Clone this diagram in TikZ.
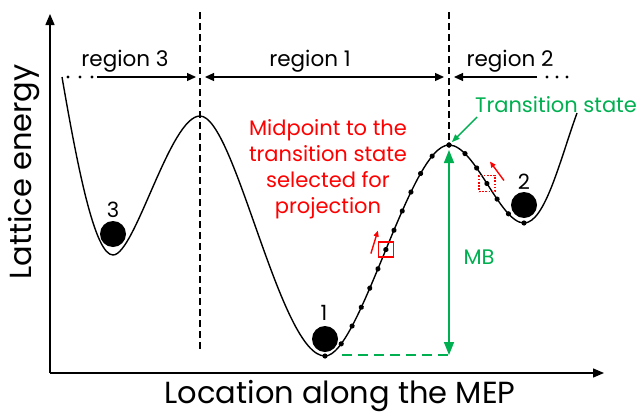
\documentclass[tikz,border=0pt]{standalone}
\usepackage{fontspec}
\setmainfont{Poppins}
\usetikzlibrary{arrows.meta,decorations.markings,calc}
\definecolor{mygreen}{RGB}{0,176,80}
\definecolor{myred}{RGB}{255,0,0}
\tikzset{
  curve/.style={line width=1.4pt},
  axisline/.style={line width=1.3pt,-{Triangle[length=11pt,width=9pt]}},
  sepline/.style={line width=1.2pt,dash pattern=on 7pt off 4pt},
  regarrow/.style={line width=1.2pt,-{Triangle[length=9pt,width=8pt]}},
  regboth/.style={line width=1.2pt,{Triangle[length=9pt,width=8pt]}-{Triangle[length=9pt,width=8pt]}},
  ball/.style={circle,fill=black,minimum size=26pt,inner sep=0pt},
  lbl/.style={font=\fontsize{21}{25}\selectfont,inner sep=0pt},
  reglbl/.style={font=\fontsize{21.5}{25}\selectfont,inner sep=0pt},
  biglbl/.style={font=\fontsize{30.5}{36}\selectfont,inner sep=0pt},
  redsq/.style={draw=myred,line width=1.4pt,minimum size=15pt,inner sep=0pt},
  redarrow/.style={myred,line width=1.4pt,-{Triangle[length=6pt,width=5pt]}},
  garrow/.style={mygreen,line width=1.4pt,-{Triangle[length=8pt,width=6pt]}},
  gboth/.style={mygreen,line width=1.6pt,{Triangle[length=13pt,width=10pt]}-{Triangle[length=13pt,width=10pt]}},
  gdash/.style={mygreen,line width=2pt,dash pattern=on 10pt off 6pt},
}
\begin{document}
\begin{tikzpicture}[x=1pt,y=-1pt]
\useasboundingbox (0,0) rectangle (636,415);

% key points
\coordinate (s)  at (62,77);
\coordinate (m3) at (113,255);
\coordinate (p)  at (200,116);
\coordinate (m1) at (325,356);
\coordinate (ts) at (449,145);
\coordinate (m2) at (524,223);
\coordinate (e)  at (577,113);

% axes
\coordinate (o)  at (50,373);
\coordinate (yt) at (50,14);
\coordinate (xt) at (604,373);
\draw[axisline] (o) -- (yt);
\draw[axisline] (o) -- (xt);
\node[biglbl,rotate=90] (ylab) at (24,172) {Lattice energy};
\node[biglbl] (xlab) at (340,396) {Location along the MEP};

% separators
\coordinate (d1t) at (200,12);
\coordinate (d1b) at (200,352);
\coordinate (d2t) at (449,12);
\coordinate (d2b) at (449,140);
\draw[sepline] (d1t) -- (d1b);
\draw[sepline] (d2t) -- (d2b);

% region arrows
\coordinate (r3a) at (97,77);
\coordinate (r3b) at (196,77);
\coordinate (r1a) at (205,77);
\coordinate (r1b) at (444,77);
\coordinate (r2a) at (537,77);
\coordinate (r2b) at (454,77);
\draw[regarrow] (r3a) -- (r3b);
\draw[regboth] (r1a) -- (r1b);
\draw[regarrow] (r2a) -- (r2b);
\foreach \x in {68,80,92} \fill (\x,77) circle (1.6pt);
\foreach \x in {547,557,567} \fill (\x,77) circle (1.6pt);
\node[reglbl] (t3) at (125,61) {region 3};
\node[reglbl] (t1) at (310,61) {region 1};
\node[reglbl] (t2) at (510,61) {region 2};

% energy curve
\draw[curve] (s) .. controls (78,170) and (95,255) .. (m3)
  .. controls (135,255) and (170,116) .. (p)
  .. controls (235,116) and (280,356) .. (m1)
  .. controls (360,356) and (410,145) .. (ts)
  .. controls (475,145) and (500,223) .. (m2)
  .. controls (545,223) and (560,160) .. (e);

% images along the path
\path[decoration={markings,
   mark=at position 0.5 with {\coordinate (q1);},
   mark=between positions 0 and 1 step 0.083333 with {\fill circle (2.6pt);}},decorate]
  (m1) .. controls (360,356) and (410,145) .. (ts);
\path[decoration={markings,
   mark=at position 0.5 with {\coordinate (q2);},
   mark=between positions 0 and 1 step 0.166666 with {\fill circle (2.6pt);}},decorate]
  (ts) .. controls (475,145) and (500,223) .. (m2);
\fill (ts) circle (2.6pt);
\fill (m2) circle (2.6pt);

% balls
\node[ball] (b3) at (113,234) {};
\node[ball] (b1) at (325,339) {};
\node[ball] (b2) at (524,205) {};
\node[lbl] (n3) at (113,210) {3};
\node[lbl] (n1) at (324,313) {1};
\node[lbl] (n2) at (524,182) {2};

% red markers
\node[redsq] (sq1) at (q1) {};
\node[redsq,minimum size=16pt,dash pattern=on 1.6pt off 1.6pt] (sq2) at (q2) {};
\coordinate (ra1) at ($(sq1)+(-15,4)$);
\coordinate (rb1) at ($(sq1)+(-8,-19)$);
\draw[redarrow] (ra1) -- (rb1);
\coordinate (ra2) at ($(sq2)+(17,-3)$);
\coordinate (rb2) at ($(sq2)+(3,-22)$);
\draw[redarrow] (ra2) -- (rb2);
\node[font=\fontsize{21}{26}\selectfont,text=myred,align=center,inner sep=0pt] (mid) at (328,169)
  {Midpoint to the\\transition state\\selected for\\projection};

% green annotations
\node[lbl,text=mygreen] (tst) at (556,105) {Transition state};
\coordinate (ga) at (477,117);
\draw[garrow,shorten >=4pt] (ga) -- (ts);
\coordinate (mbt) at (449,150);
\coordinate (mbb) at (449,355);
\draw[gboth] (mbt) -- (mbb);
\coordinate (gd) at (342,355);
\draw[gdash] (gd) -- (mbb);
\node[lbl,text=mygreen] (mb) at (479,257) {MB};
\end{tikzpicture}
\end{document}
